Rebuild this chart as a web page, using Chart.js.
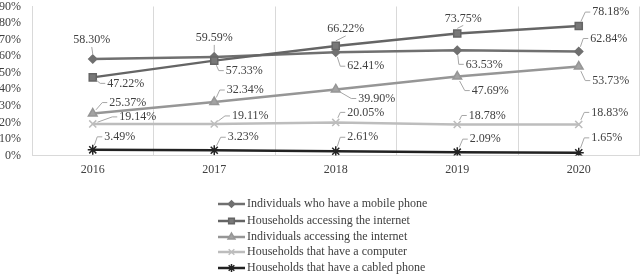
<!DOCTYPE html>
<html>
<head>
<meta charset="utf-8">
<script src="https://cdn.jsdelivr.net/npm/chart.js@4/dist/chart.umd.min.js"></script>
<style>
html, body { margin: 0; padding: 0; background: #fff; overflow: hidden; }
#wrap { width: 646px; height: 275px; }
</style>
</head>
<body>
<div id="wrap"><canvas id="myChart"></canvas></div>
<script>
const years = ["2016", "2017", "2018", "2019", "2020"];
const mobilePhone = [58.30, 59.59, 62.41, 63.53, 62.84];
const householdsInternet = [47.22, 57.33, 66.22, 73.75, 78.18];
const individualsInternet = [25.37, 32.34, 39.90, 47.69, 53.73];
const householdsComputer = [19.14, 19.11, 20.05, 18.78, 18.83];
const cabledPhone = [3.49, 3.23, 2.61, 2.09, 1.65];
const seriesNames = [
    "Individuals who have a mobile phone",
    "Households accessing the internet",
    "Individuals accessing the internet",
    "Households that have a computer",
    "Households that have a cabled phone"
];

// where each value label sits, relative to its point (px)
const labelOffsets = [
    [[-1, -19], [0, -19], [30, 14], [27, 14], [30, -13]],
    [[33, 6], [30, 10], [10, -17], [6, -15], [32, -14]],
    [[35, -11], [31, -12], [41, 9], [33, 14], [32, 14]],
    [[45, -7], [36, -8], [30, -10], [30, -9], [31, -12]],
    [[27, -13], [29, -13], [27, -14], [28, -13], [28, -15]]
];

const FONT = "Liberation Serif";
const TEXT = "#404040";

function series(label, data, color, fill, style, radius, order) {
    return {
        label: label,
        data: data,
        borderColor: color,
        backgroundColor: fill,
        pointBackgroundColor: fill,
        pointBorderColor: color,
        pointStyle: style,
        pointRadius: radius,
        pointBorderWidth: 1.5,
        borderWidth: 2.5,
        tension: 0,
        order: order
    };
}

const valueLabels = {
    id: "valueLabels",
    afterDatasetsDraw(chart) {
        const ctx = chart.ctx;
        ctx.save();
        ctx.font = "12px '" + FONT + "'";
        ctx.textAlign = "center";
        ctx.textBaseline = "middle";
        chart.data.datasets.forEach((ds, i) => {
            const meta = chart.getDatasetMeta(i);
            meta.data.forEach((pt, j) => {
                const off = labelOffsets[i][j];
                const lx = pt.x + off[0], ly = pt.y + off[1];
                const txt = ds.data[j].toFixed(2) + "%";
                const w = ctx.measureText(txt).width;
                ctx.strokeStyle = "#a6a6a6";
                ctx.lineWidth = 1;
                ctx.beginPath();
                if (Math.abs(off[0]) < 15) {
                    const dir = off[1] < 0 ? -1 : 1;
                    ctx.moveTo(pt.x, pt.y + dir * 5);
                    ctx.lineTo(lx, ly - dir * 7);
                } else {
                    const ax = lx - w / 2 - 2;
                    const dx = ax - 5 - pt.x, dy = ly - pt.y;
                    const d = Math.hypot(dx, dy) || 1;
                    ctx.moveTo(pt.x + dx / d * 5, pt.y + dy / d * 5);
                    ctx.lineTo(ax - 5, ly);
                    ctx.lineTo(ax, ly);
                }
                ctx.stroke();
                ctx.fillStyle = TEXT;
                ctx.fillText(txt, lx, ly);
            });
        });
        ctx.restore();
    }
};

const listLegend = {
    id: "listLegend",
    afterDraw(chart) {
        const ctx = chart.ctx;
        const x0 = 218, x1 = 245, rowY = [204, 221, 237, 252, 268];
        ctx.save();
        ctx.font = "12px '" + FONT + "'";
        ctx.textBaseline = "middle";
        ctx.textAlign = "left";
        chart.data.datasets.forEach((ds, i) => {
            const y = rowY[i];
            ctx.strokeStyle = ds.borderColor;
            ctx.lineWidth = ds.borderWidth;
            ctx.beginPath();
            ctx.moveTo(x0, y);
            ctx.lineTo(x1, y);
            ctx.stroke();
            ctx.fillStyle = ds.pointBackgroundColor;
            ctx.strokeStyle = ds.pointBorderColor;
            ctx.lineWidth = 1.5;
            Chart.helpers.drawPoint(ctx, {
                pointStyle: ds.pointStyle, radius: ds.pointRadius * 0.8, rotation: 0, borderWidth: 1.5
            }, (x0 + x1) / 2, y);
            ctx.fillStyle = TEXT;
            ctx.fillText(seriesNames[i], x1 + 2, y);
        });
        ctx.restore();
    }
};

new Chart(document.getElementById("myChart"), {
    type: "line",
    data: {
        labels: years,
        datasets: [
            series(seriesNames[0], mobilePhone, "#707070", "#707070", "rectRot", 4, 5),
            series(seriesNames[1], householdsInternet, "#656565", "#787878", "rect", 5, 4),
            series(seriesNames[2], individualsInternet, "#969696", "#a3a3a3", "triangle", 5, 3),
            series(seriesNames[3], householdsComputer, "#bdbdbd", "#bdbdbd", "crossRot", 5, 2),
            series(seriesNames[4], cabledPhone, "#222222", "#222222", "star", 5, 1)
        ]
    },
    options: {
        responsive: true,
        maintainAspectRatio: false,
        animation: false,
        layout: { padding: { left: 0, right: 1, top: 5, bottom: 91 } },
        plugins: {
            legend: { display: false },
            tooltip: { enabled: false }
        },
        scales: {
            x: {
                offset: true,
                grid: { offset: true, color: "#d9d9d9", drawTicks: false },
                border: { color: "#d9d9d9" },
                ticks: { padding: 7, color: TEXT, font: { family: FONT, size: 12 } },
                afterFit(scale) { scale.paddingLeft = 0; scale.paddingRight = 0; }
            },
            y: {
                min: 0,
                max: 90,
                grid: { display: false, drawTicks: false },
                border: { display: true, color: "#d9d9d9" },
                ticks: {
                    stepSize: 10,
                    autoSkip: false,
                    padding: 11,
                    color: TEXT,
                    font: { family: FONT, size: 12 },
                    callback: v => v + "%"
                },
                afterFit(scale) { scale.width = 32; scale.paddingTop = 0; scale.paddingBottom = 0; }
            }
        }
    },
    plugins: [valueLabels, listLegend]
});
</script>
</body>
</html>
